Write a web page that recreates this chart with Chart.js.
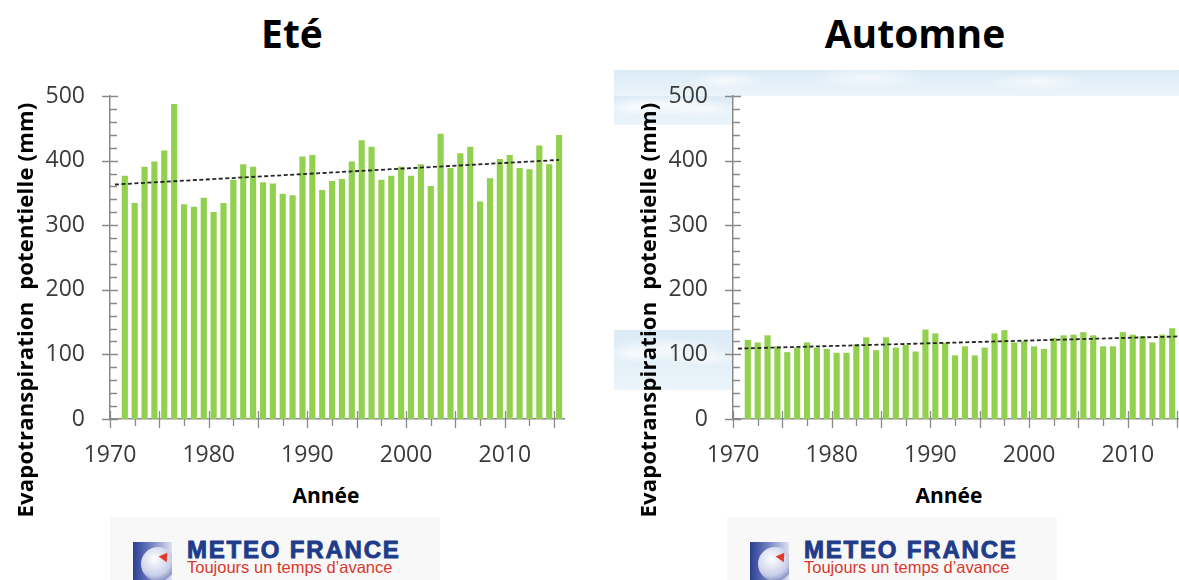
<!DOCTYPE html>
<html lang="fr">
<head>
<meta charset="utf-8">
<title>Evapotranspiration potentielle - Eté / Automne</title>
<script src="https://cdn.jsdelivr.net/npm/chart.js@4.4.1/dist/chart.umd.min.js"></script>
<style>
  html, body { margin: 0; padding: 0; background: #fff; }
  body { width: 1179px; height: 580px; overflow: hidden; position: relative; font-family: "Open Sans", sans-serif; }
  .panel { position: absolute; top: 0; width: 600px; height: 580px; }
  .panel canvas { position: absolute; left: 0; top: 0; }
  .title { position: absolute; top: 13px; left: 92px; width: 400px; text-align: center;
           font-weight: 700; font-size: 39px; line-height: 1; color: #000; }
  .ytitle { position: absolute; left: -206px; top: 298px; width: 460px; height: 24px; line-height: 24px;
            text-align: center; font-weight: 700; font-size: 22px; letter-spacing: 0.2px; white-space: pre; color: #000;
            transform: rotate(-90deg); transform-origin: 50% 50%; }
  .xtitle { position: absolute; left: 226px; width: 200px; top: 482px; text-align: center;
            font-weight: 700; font-size: 21px; line-height: 26px; color: #000; }
  .sky { position: absolute;
         background:
           radial-gradient(ellipse 40px 9px at 20% 40%, rgba(255,255,255,.7), rgba(255,255,255,0)),
           radial-gradient(ellipse 60px 11px at 45% 30%, rgba(255,255,255,.65), rgba(255,255,255,0)),
           radial-gradient(ellipse 50px 9px at 75% 45%, rgba(255,255,255,.65), rgba(255,255,255,0)),
           linear-gradient(#dbebf6, #ebf4fa); }
  .logo { position: absolute; left: 110px; top: 517px; width: 330px; height: 63px; background: #f8f8f8;
          font-family: "Liberation Sans", Arial, sans-serif; }
  .icon { position: absolute; left: 23px; top: 25px; width: 39px; height: 38px; overflow: hidden;
          background: linear-gradient(90deg, #2c3f92, #6f7fbf 45%, #dfe2f0); }
  .globe { position: absolute; left: 8px; top: 5px; width: 34px; height: 34px; border-radius: 50%;
           background: radial-gradient(circle at 40% 35%, #ffffff, #c9cfe8 55%, #3a4c9c); }
  .arrow { position: absolute; left: 27px; top: 10px; width: 0; height: 0;
           border-left: 5px solid transparent; border-right: 5px solid transparent; border-bottom: 8px solid #e0392b;
           transform: rotate(35deg); }
  .brand { position: absolute; left: 77px; top: 21px; font-weight: 700; font-size: 24px; line-height: 1;
           letter-spacing: 1.8px; color: #1f3c8a; white-space: nowrap; -webkit-text-stroke: 0.9px #1f3c8a; }
  .slogan { position: absolute; left: 77px; top: 42px; font-size: 16.5px; line-height: 1; color: #d8382c; white-space: nowrap; }
</style>
</head>
<body>

<div class="sky" style="left:614px; top:70px; width:565px; height:26px;"></div>
<div class="sky" style="left:614px; top:96px; width:119px; height:29px;"></div>
<div class="sky" style="left:614px; top:330px; width:119px; height:60px;"></div>

<div class="panel" style="left:0;">
  <div class="title">Eté</div>
  <canvas id="chartEte" width="590" height="480"></canvas>
  <div class="ytitle">Evapotranspiration  potentielle (mm)</div>
  <div class="xtitle">Année</div>
  <div class="logo"><div class="icon"><div class="globe"></div><div class="arrow"></div></div>
    <div class="brand">METEO FRANCE</div><div class="slogan">Toujours un temps d’avance</div></div>
</div>

<div class="panel" style="left:623px;">
  <div class="title">Automne</div>
  <canvas id="chartAutomne" width="590" height="480"></canvas>
  <div class="ytitle">Evapotranspiration  potentielle (mm)</div>
  <div class="xtitle">Année</div>
  <div class="logo" style="left:104px;"><div class="icon"><div class="globe"></div><div class="arrow"></div></div>
    <div class="brand">METEO FRANCE</div><div class="slogan">Toujours un temps d’avance</div></div>
</div>

<script>
// --- Data ---
const yearsEte = [1971, 1972, 1973, 1974, 1975, 1976, 1977, 1978, 1979, 1980,
  1981, 1982, 1983, 1984, 1985, 1986, 1987, 1988, 1989, 1990,
  1991, 1992, 1993, 1994, 1995, 1996, 1997, 1998, 1999, 2000,
  2001, 2002, 2003, 2004, 2005, 2006, 2007, 2008, 2009, 2010,
  2011, 2012, 2013, 2014, 2015];
const etpEte = [376, 334, 390, 398, 415, 487, 332, 328, 342, 320,
  334, 370, 394, 390, 366, 364, 348, 346, 406, 408,
  354, 368, 371, 398, 431, 421, 370, 376, 390, 376,
  394, 360, 441, 388, 411, 421, 336, 372, 402, 408,
  388, 386, 423, 394, 439];

const yearsAutomne = [1971, 1972, 1973, 1974, 1975, 1976, 1977, 1978, 1979, 1980,
  1981, 1982, 1983, 1984, 1985, 1986, 1987, 1988, 1989, 1990,
  1991, 1992, 1993, 1994, 1995, 1996, 1997, 1998, 1999, 2000,
  2001, 2002, 2003, 2004, 2005, 2006, 2007, 2008, 2009, 2010,
  2011, 2012, 2013, 2014];
const etpAutomne = [122, 118, 129, 112, 103, 110, 118, 110, 108, 102,
  102, 115, 126, 106, 126, 110, 114, 104, 138, 132,
  117, 98, 112, 98, 110, 132, 137, 118, 120, 112,
  108, 125, 129, 130, 134, 129, 112, 112, 134, 130,
  128, 118, 130, 140];

// trend lines: two end points each
const trendYears = [1970.5, 2015.5];
const trendEte = [363, 401];
const trendAutomne = [109, 128];

const xTickLabels = [1970, 1980, 1990, 2000, 2010];
const yTickLabels = [0, 100, 200, 300, 400, 500];

const barColor = '#92D050';
const axisColor = '#8a8a8a';
const tickFont = { family: 'Open Sans', size: 23 };

// small ticks like the Excel axes: majors cross the axis, minors on one side
const axisTicks = {
  id: 'axisTicks',
  afterDatasetsDraw(chart) {
    const { ctx, chartArea: a, scales: { x, y } } = chart;
    ctx.save();
    ctx.strokeStyle = axisColor;
    ctx.lineWidth = 1.3;
    ctx.beginPath();
    for (let v = 1970; v <= 2015; v += 2.5) {
      const px = Math.round(x.getPixelForValue(v)) + 0.5;
      const major = v % 5 === 0;
      ctx.moveTo(px, major ? a.bottom - 8 : a.bottom);
      ctx.lineTo(px, a.bottom + (major ? 9 : 7));
    }
    for (let v = 0; v <= 500; v += 20) {
      const py = Math.round(y.getPixelForValue(v)) + 0.5;
      const major = v % 100 === 0;
      ctx.moveTo(major ? a.left - 8 : a.left, py);
      ctx.lineTo(a.left + (major ? 8 : 7), py);
    }
    ctx.stroke();
    ctx.restore();
  }
};

function makeChart(id, years, values, trend) {
  const bars = years.map((yr, i) => ({ x: yr + 0.5, y: values[i] }));
  const line = trendYears.map((yr, i) => ({ x: yr, y: trend[i] }));
  return new Chart(document.getElementById(id), {
    type: 'bar',
    data: {
      datasets: [
        { type: 'line', data: line, borderColor: '#262626', borderWidth: 1.8, borderDash: [4, 2.5],
          pointRadius: 0, fill: false, order: 0 },
        { type: 'bar', data: bars, backgroundColor: barColor, borderWidth: 0, barThickness: 5.5,
          grouped: false, order: 1 }
      ]
    },
    options: {
      responsive: false,
      animation: false,
      layout: { padding: { top: 96, right: 26, bottom: 0, left: 0 } },
      plugins: { legend: { display: false }, tooltip: { enabled: false } },
      scales: {
        x: {
          type: 'linear', min: 1970, max: 2016, offset: false,
          afterBuildTicks: s => { s.ticks = xTickLabels.map(v => ({ value: v })); },
          afterFit: s => { s.height = 61; },
          grid: { display: false, drawTicks: false, offset: false },
          border: { display: true, color: axisColor, width: 1.5 },
          ticks: { font: tickFont, color: '#3a3a3a', padding: 23, maxRotation: 0, callback: v => String(v) }
        },
        y: {
          min: 0, max: 500,
          afterBuildTicks: s => { s.ticks = yTickLabels.map(v => ({ value: v })); },
          afterFit: s => { s.width = 110; },
          grid: { display: false, drawTicks: false },
          border: { display: true, color: axisColor, width: 1.5 },
          ticks: { font: tickFont, color: '#3a3a3a', padding: 25 }
        }
      }
    },
    plugins: [axisTicks]
  });
}

makeChart('chartEte', yearsEte, etpEte, trendEte);
makeChart('chartAutomne', yearsAutomne, etpAutomne, trendAutomne);
</script>
</body>
</html>
